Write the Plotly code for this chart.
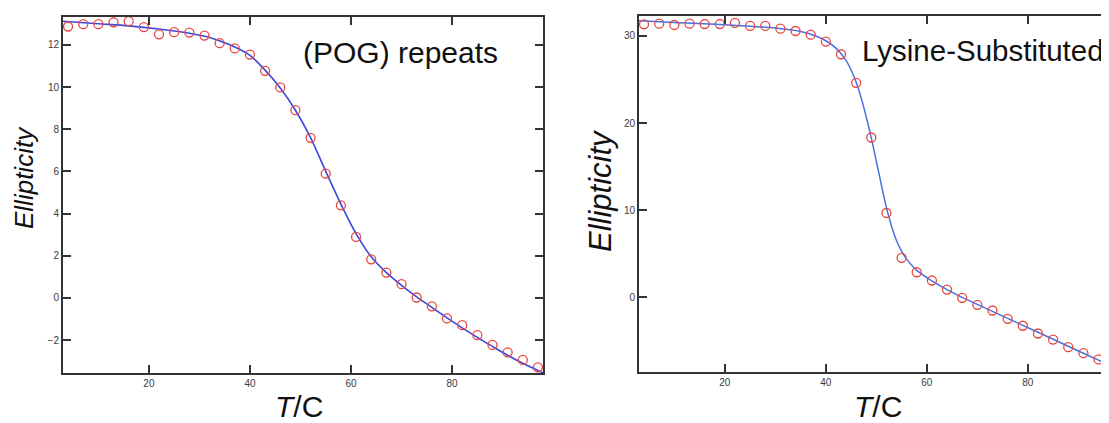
import plotly.graph_objects as go

# ---------------- data ----------------
T_pts = [4, 7, 10, 13, 16, 19, 22, 25, 28, 31, 34, 37, 40, 43, 46, 49,
         52, 55, 58, 61, 64, 67, 70, 73, 76, 79, 82, 85, 88, 91, 94, 97]

pog_obs = [12.87, 12.98, 12.98, 13.07, 13.12, 12.84, 12.50, 12.60, 12.58, 12.44,
           12.08, 11.83, 11.54, 10.77, 9.98, 8.90, 7.59, 5.89, 4.39, 2.89,
           1.83, 1.20, 0.65, 0.02, -0.40, -0.97, -1.29, -1.76, -2.23, -2.58,
           -2.94, -3.29]

pog_fit_T = [3, 10, 16, 22, 28, 32, 36, 40, 43, 46, 49, 52, 55, 58, 61, 64,
             67, 70, 73, 76, 79, 82, 85, 88, 91, 94, 98]
pog_fit = [13.12, 13.00, 12.90, 12.75, 12.55, 12.35, 12.00, 11.50, 10.80, 9.95,
           8.90, 7.60, 6.00, 4.45, 3.05, 1.95, 1.20, 0.60, 0.05, -0.45, -0.95,
           -1.42, -1.87, -2.30, -2.72, -3.10, -3.55]

lys_T = [4, 7, 10, 13, 16, 19, 22, 25, 28, 31, 34, 37, 40, 43, 46, 49,
         52, 55, 58, 61, 64, 67, 70, 73, 76, 79, 82, 85, 88, 91, 94]
lys_obs = [31.34, 31.41, 31.26, 31.41, 31.37, 31.37, 31.49, 31.15, 31.15, 30.84,
           30.57, 30.15, 29.35, 27.90, 24.62, 18.35, 9.69, 4.54, 2.89, 1.94,
           0.90, -0.04, -0.85, -1.50, -2.45, -3.25, -4.14, -4.83, -5.71, -6.39,
           -7.11]

lys_fit_T = [3, 10, 20, 30, 35, 38, 40, 42, 44, 45, 46, 47, 48, 49, 50, 51, 52,
             53, 54, 55, 56, 58, 61, 64, 67, 70, 73, 76, 79, 82, 85, 88, 91,
             94, 97]
lys_fit = [31.75, 31.55, 31.30, 30.90, 30.50, 30.00, 29.45, 28.60, 27.20, 26.10,
           24.70, 22.90, 20.70, 18.30, 15.60, 12.90, 10.30, 8.20, 6.50, 5.30,
           4.40, 3.10, 1.90, 0.90, 0.00, -0.80, -1.60, -2.40, -3.20, -4.00,
           -4.80, -5.60, -6.40, -7.20, -8.00]

x_ticks = [20, 40, 60, 80]
pog_y_ticks = [-2, 0, 2, 4, 6, 8, 10, 12]
lys_y_ticks = [0, 10, 20, 30]

panel_titles = ["(POG) repeats", "Lysine-Substituted"]
y_title = "Ellipticity"
x_title = "<i>T</i>/C"

# ---------------- layout helpers ----------------
# The page body has an 8px margin, so the figure is drawn at (8, 8);
# size it so it ends exactly at the window edge and convert window pixels.
OFF = 8
W, H = 1109 - OFF, 423 - OFF


def px(x):
    return (x - OFF) / W


def py(y):
    return (H - (y - OFF)) / H


FONT = "Liberation Sans, Arial, Helvetica, sans-serif"
AX = "#333333"
RED = "#e8463f"

fig = go.Figure()

fig.add_trace(go.Scatter(x=pog_fit_T, y=pog_fit, mode="lines",
                         line=dict(color="#3a48dc", width=1.6, shape="spline", smoothing=0.8),
                         xaxis="x", yaxis="y", showlegend=False))
fig.add_trace(go.Scatter(x=T_pts, y=pog_obs, mode="markers",
                         marker=dict(symbol="circle-open", size=9, color=RED, line=dict(width=1.3)),
                         xaxis="x", yaxis="y", showlegend=False))

fig.add_trace(go.Scatter(x=lys_fit_T, y=lys_fit, mode="lines",
                         line=dict(color="#4672e4", width=1.5, shape="spline", smoothing=0.8),
                         xaxis="x2", yaxis="y2", showlegend=False))
fig.add_trace(go.Scatter(x=lys_T, y=lys_obs, mode="markers",
                         marker=dict(symbol="circle-open", size=9, color=RED, line=dict(width=1.3)),
                         xaxis="x2", yaxis="y2", showlegend=False))

axis_common = dict(showgrid=False, zeroline=False, showline=True, linecolor=AX,
                   linewidth=2, ticks="inside", ticklen=8, tickwidth=2,
                   tickcolor=AX, tickfont=dict(family=FONT, size=10, color="#3a3a3a"))

fig.update_layout(
    width=W, height=H,
    margin=dict(l=0, r=0, t=0, b=0),
    paper_bgcolor="white", plot_bgcolor="white",
    font=dict(family=FONT),
    xaxis=dict(domain=[px(63), px(543)], range=[3, 98], tickvals=x_ticks,
               mirror="ticks", anchor="y", **axis_common),
    yaxis=dict(domain=[py(373), py(17)], range=[-3.56, 13.32], tickvals=pog_y_ticks,
               mirror="ticks", anchor="x", **axis_common),
    xaxis2=dict(domain=[px(639), 1.0], range=[3, 96.07], tickvals=x_ticks,
                mirror="ticks", anchor="y2", **axis_common),
    yaxis2=dict(domain=[py(372.3), py(16)], range=[-8.59, 32.29], tickvals=lys_y_ticks,
                mirror=False, anchor="x2", **axis_common),
)

ann = []
ann.append(dict(text=panel_titles[0], x=px(400), y=py(52), xref="paper", yref="paper",
                showarrow=False, font=dict(family=FONT, size=30, color="#111111"),
                xanchor="center", yanchor="middle"))
ann.append(dict(text=panel_titles[1], x=px(1106), y=py(50), xref="paper", yref="paper",
                showarrow=False, font=dict(family=FONT, size=29.5, color="#111111"),
                xanchor="right", yanchor="middle"))
ann.append(dict(text="<i>" + y_title + "</i>", x=px(24), y=py(178), xref="paper", yref="paper",
                showarrow=False, textangle=-90, font=dict(family=FONT, size=26, color="#111111"),
                xanchor="center", yanchor="middle"))
ann.append(dict(text="<i>" + y_title + "</i>", x=px(600), y=py(190), xref="paper", yref="paper",
                showarrow=False, textangle=-90, font=dict(family=FONT, size=31, color="#111111"),
                xanchor="center", yanchor="middle"))
ann.append(dict(text=x_title, x=px(299), y=py(406), xref="paper", yref="paper",
                showarrow=False, font=dict(family=FONT, size=30, color="#111111"),
                xanchor="center", yanchor="middle"))
ann.append(dict(text=x_title, x=px(878), y=py(406), xref="paper", yref="paper",
                showarrow=False, font=dict(family=FONT, size=30, color="#111111"),
                xanchor="center", yanchor="middle"))
fig.update_layout(annotations=ann)

fig.write_html("out.html")
